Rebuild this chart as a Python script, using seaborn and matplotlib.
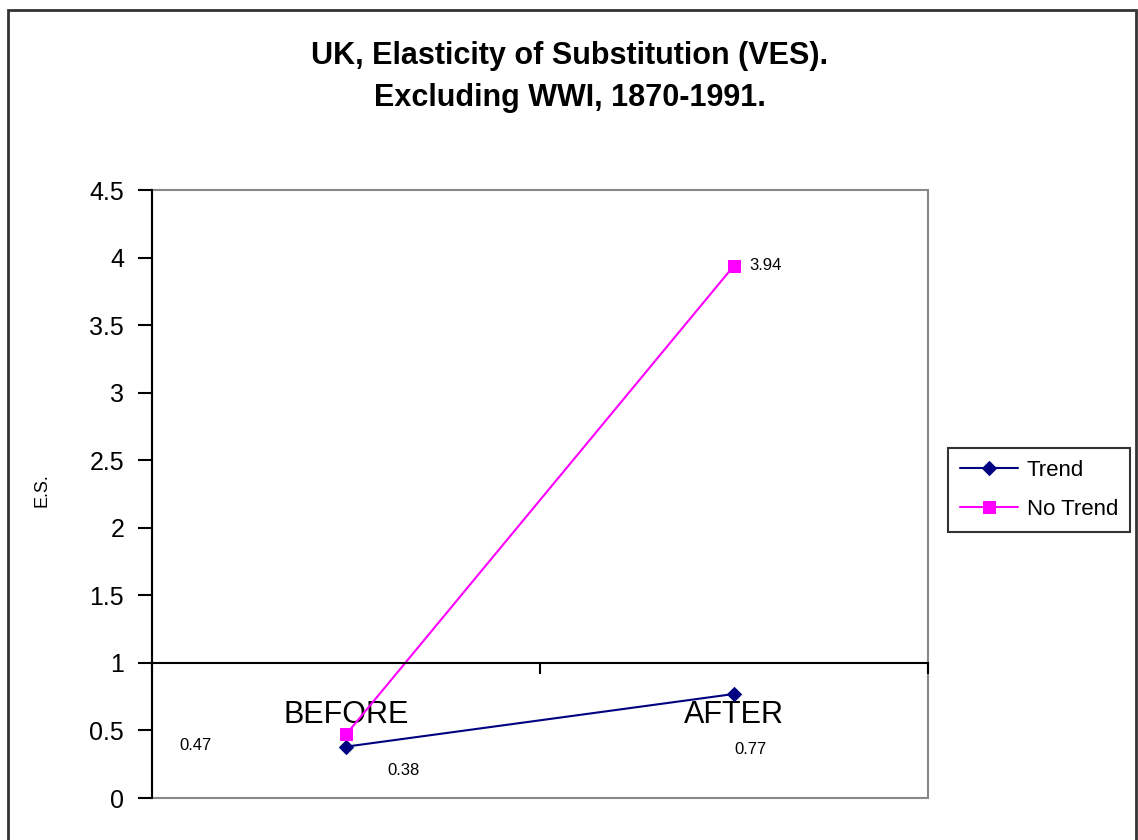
import matplotlib
matplotlib.use("Agg")
import matplotlib.pyplot as plt
from matplotlib.patches import Rectangle
import seaborn as sns
import pandas as pd

categories = ["BEFORE", "AFTER"]
trend = [0.38, 0.77]
no_trend = [0.47, 3.94]
series_names = ["Trend", "No Trend"]
yticks = [0, 0.5, 1, 1.5, 2, 2.5, 3, 3.5, 4, 4.5]
ytick_labels = ["0", "0.5", "1", "1.5", "2", "2.5", "3", "3.5", "4", "4.5"]

sns.set_theme(style="white")
plt.rcParams['font.family'] = ['Liberation Sans', 'DejaVu Sans']
plt.rcParams['text.color'] = 'black'
plt.rcParams['axes.labelcolor'] = 'black'
plt.rcParams['xtick.color'] = 'black'
plt.rcParams['ytick.color'] = 'black'

df = pd.DataFrame({
    "pos": [0, 1, 0, 1],
    "value": trend + no_trend,
    "series": [series_names[0]] * 2 + [series_names[1]] * 2,
})

fig = plt.figure(figsize=(11.38, 8.40), dpi=100)
ax = fig.add_axes([152 / 1138, 42 / 840, 776 / 1138, 608 / 840])

palette = {"Trend": "#000080", "No Trend": "#FF00FF"}
markers = {"Trend": "D", "No Trend": "s"}
sizes = {"Trend": 7, "No Trend": 9}
for name in series_names:
    sub = df[df["series"] == name]
    sns.lineplot(data=sub, x="pos", y="value", ax=ax, color=palette[name],
                 marker=markers[name], markersize=sizes[name],
                 markeredgecolor=palette[name], linewidth=1.5, label=name)

ax.set_xlim(-0.5, 1.5)
ax.set_ylim(0, 4.5)
ax.set_yticks(yticks)
ax.set_yticklabels(ytick_labels, fontsize=18)

ax.spines['bottom'].set_position(('data', 1))
ax.spines['bottom'].set_color('black')
ax.spines['bottom'].set_linewidth(1.5)
ax.spines['left'].set_color('black')
ax.spines['left'].set_linewidth(1.5)
ax.spines['top'].set_visible(False)
ax.spines['right'].set_visible(False)
ax.add_patch(Rectangle((0, 0), 1, 1, transform=ax.transAxes, fill=False,
                       edgecolor='#888888', linewidth=1.5, clip_on=False, zorder=0))

ax.set_xticks([-0.5, 0.5, 1.5])
ax.set_xticklabels([])
ax.set_xticks([0, 1], minor=True)
ax.set_xticklabels(categories, minor=True, fontsize=22)
ax.tick_params(axis='x', which='major', direction='out', length=8, width=1.5, color='black', bottom=True)
ax.tick_params(axis='x', which='minor', length=0, pad=27, bottom=True)
ax.tick_params(axis='y', direction='out', length=10, width=1.5, color='black', left=True, pad=10)

ax.set_xlabel("")
ax.set_ylabel("E.S.", fontsize=13)
ax.yaxis.set_label_coords((50 - 152) / 776, (798 - 490) / 608)

# data labels
ax.annotate(f"{trend[0]:.2f}", (0, trend[0]), xytext=(30, -17), textcoords='offset points',
            fontsize=12, ha='left', va='center')
ax.annotate(f"{trend[1]:.2f}", (1, trend[1]), xytext=(0, -40), textcoords='offset points',
            fontsize=12, ha='left', va='center')
ax.annotate(f"{no_trend[0]:.2f}", (0, no_trend[0]), xytext=(-120, -8), textcoords='offset points',
            fontsize=12, ha='left', va='center')
ax.annotate(f"{no_trend[1]:.2f}", (1, no_trend[1]), xytext=(11, 0), textcoords='offset points',
            fontsize=12, ha='left', va='center')

leg = ax.legend(loc='upper left', bbox_to_anchor=(948 / 1138, 1 - 448 / 840),
                bbox_transform=fig.transFigure, fontsize=16, frameon=True,
                fancybox=False, edgecolor='black', handlelength=2.6,
                handletextpad=0.4, borderpad=0.55, labelspacing=0.8,
                borderaxespad=0)
leg.get_frame().set_linewidth(1.5)

fig.text(570 / 1138, 1 - 56 / 840, "UK, Elasticity of Substitution (VES).",
         ha='center', va='center', fontsize=22, fontweight='bold')
fig.text(570 / 1138, 1 - 98 / 840, "Excluding WWI, 1870-1991.",
         ha='center', va='center', fontsize=22, fontweight='bold')

fig.patches.append(Rectangle((8 / 1138, -0.05), 1128 / 1138, 1 - 10 / 840 + 0.05,
                             transform=fig.transFigure, fill=False,
                             edgecolor='#333333', linewidth=2, figure=fig))

fig.savefig("out.png", dpi=100)
